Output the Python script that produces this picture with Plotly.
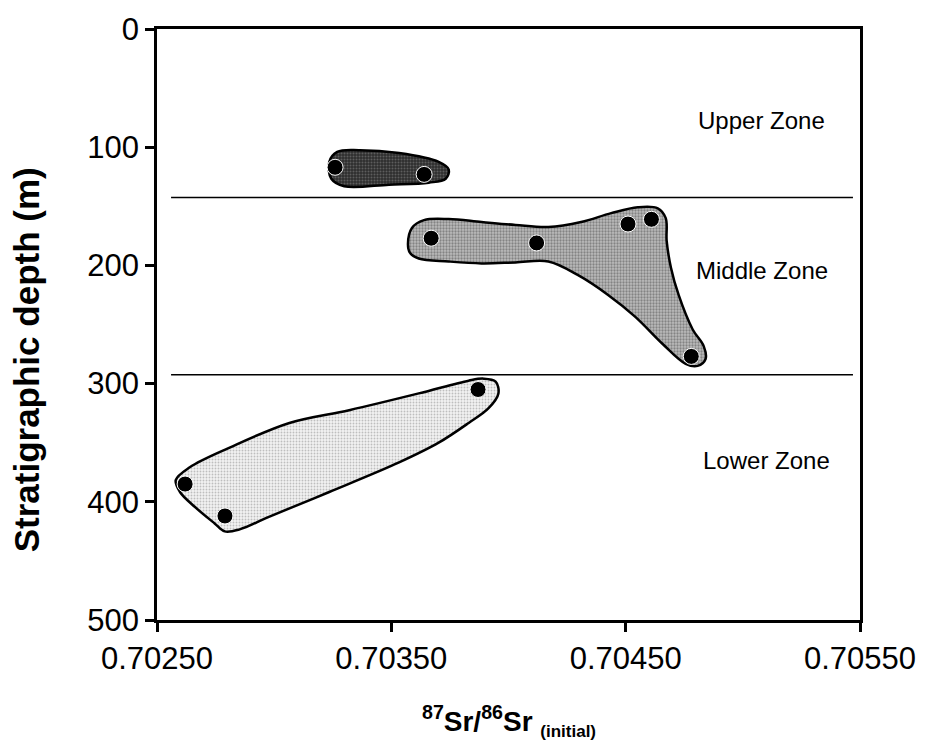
import plotly.graph_objects as go

# Sample points: 87Sr/86Sr (initial) vs stratigraphic depth (m)
upper_sr = [0.70326, 0.70364]
upper_depth = [117, 123]
middle_sr = [0.70367, 0.70412, 0.70451, 0.70461, 0.70478]
middle_depth = [177, 181, 165, 161, 277]
lower_sr = [0.70387, 0.70262, 0.70279]
lower_depth = [305, 385, 412]

# Hand-drawn envelopes around each zone's samples
upper_env_sr = [0.703235, 0.703269, 0.703363, 0.703533, 0.703702, 0.703745, 0.703732,
                0.703660, 0.703490, 0.703299, 0.703244]
upper_env_depth = [112.5, 104, 102.5, 105, 112.5, 119, 126.7, 130, 131.7, 133, 126.7]

middle_env_sr = [0.703571, 0.703588, 0.703639, 0.703745, 0.703885, 0.704030, 0.704170,
                 0.704310, 0.704438, 0.704552, 0.704637, 0.704671, 0.704675, 0.704693,
                 0.704726, 0.704786, 0.704833, 0.704841, 0.704807, 0.704756, 0.704659,
                 0.704540, 0.704425, 0.704297, 0.704170, 0.704030, 0.703885, 0.703745,
                 0.703617, 0.703579]
middle_env_depth = [181.7, 168.3, 161.7, 160.8, 163.3, 165.8, 167.5, 163.3, 155.8, 150.8,
                    151.7, 160, 179.2, 201.7, 225, 254.2, 268.3, 279.2, 285, 283.3,
                    266.7, 243.3, 225, 208.3, 196.7, 197.5, 198.3, 196.7, 194.2, 189.2]

lower_env_sr = [0.703945, 0.703957, 0.703915, 0.703830, 0.703702, 0.703533, 0.703235,
                0.702980, 0.702853, 0.702789, 0.702746, 0.702661, 0.702598, 0.702580,
                0.702640, 0.702810, 0.703065, 0.703320, 0.703617, 0.703830, 0.703894]
lower_env_depth = [298.3, 308.3, 320.8, 333.3, 350, 366.7, 391.7, 412.5, 423.3, 425,
                   418.3, 404.2, 391.7, 381.7, 370.8, 354.2, 333.3, 322.5, 308.3, 297.5,
                   295.8]

# Zone boundaries and labels
boundary_depths = [142.5, 292.5]
zone_names = ["Upper Zone", "Middle Zone", "Lower Zone"]
zone_label_depths = [77, 204, 365]
zone_label_sr = [0.70508, 0.70508, 0.70510]

x_ticks = [0.7025, 0.7035, 0.7045, 0.7055]
y_ticks = [0, 100, 200, 300, 400, 500]

FONT = "Liberation Sans, Arial, sans-serif"

fig = go.Figure()

# (outline x, outline y, stipple background, stipple dots)
envelopes = [
    (upper_env_sr, upper_env_depth, "#2e2e2e", "#8c8c8c", 0.35),
    (middle_env_sr, middle_env_depth, "#bcbcbc", "#4a4a4a", 0.45),
    (lower_env_sr, lower_env_depth, "#f2f2f2", "#8a8a8a", 0.3),
]
for xs, ys, bg, fg, sol in envelopes:
    fig.add_trace(go.Scatter(
        x=xs + xs[:1], y=ys + ys[:1], mode="lines", fill="toself",
        fillcolor=bg,
        fillpattern=dict(shape=".", bgcolor=bg, fgcolor=fg, size=3, solidity=sol),
        line=dict(color="black", width=2.5, shape="spline", smoothing=1.0),
        hoverinfo="skip", showlegend=False,
    ))

for xs, ys in [(upper_sr, upper_depth), (middle_sr, middle_depth), (lower_sr, lower_depth)]:
    fig.add_trace(go.Scatter(
        x=xs, y=ys, mode="markers",
        marker=dict(color="black", size=16, line=dict(color="white", width=1)),
        showlegend=False,
    ))

for d in boundary_depths:
    fig.add_shape(type="line", x0=0.70256, x1=0.70547, y0=d, y1=d,
                  xref="x", yref="y", line=dict(color="black", width=1.5))

for name, d, xv in zip(zone_names, zone_label_depths, zone_label_sr):
    fig.add_annotation(x=xv, y=d, text=name, showarrow=False, xref="x", yref="y",
                       font=dict(family=FONT, size=24, color="black"))

fig.add_annotation(
    x=0.5, y=-0.133, xref="paper", yref="paper", showarrow=False, yanchor="top",
    text=("<b><sup>87</sup>Sr/<sup>86</sup>Sr "
          "<sub><span style='font-size:17px'>(initial)</span></sub></b>"),
    font=dict(family=FONT, size=28, color="black"),
)
fig.add_annotation(
    x=-0.215, y=0.44, xref="paper", yref="paper", showarrow=False, textangle=-90,
    text="<b>Stratigraphic depth (m)</b>",
    font=dict(family=FONT, size=35, color="black"),
)

fig.update_xaxes(
    range=[0.7025, 0.7055], tickvals=x_ticks, tickformat=".5f",
    showline=True, linecolor="black", linewidth=2.5, mirror=True,
    ticks="outside", ticklen=9, tickwidth=2.5, tickcolor="black",
    showgrid=False, zeroline=False,
    tickfont=dict(family=FONT, size=31, color="black"),
)
fig.update_yaxes(
    range=[500, 0], tickvals=y_ticks,
    showline=True, linecolor="black", linewidth=2.5, mirror=True,
    ticks="outside", ticklen=9, tickwidth=2.5, tickcolor="black",
    showgrid=False, zeroline=False,
    tickfont=dict(family=FONT, size=31, color="black"),
)

fig.update_layout(
    width=928, height=755,
    margin=dict(l=157, r=65, t=20, b=135),
    plot_bgcolor="white", paper_bgcolor="white",
)

fig.write_html("out.html")
